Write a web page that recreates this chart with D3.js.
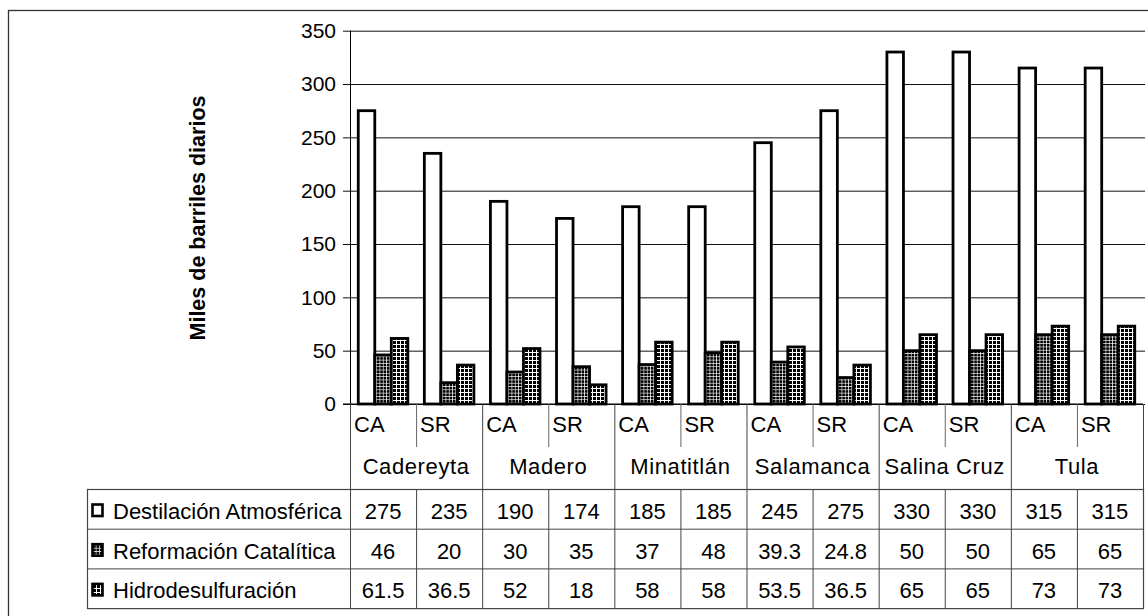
<!DOCTYPE html>
<html>
<head>
<meta charset="utf-8">
<script src="https://cdn.jsdelivr.net/npm/d3@7"></script>
<style>
  body { margin: 0; background: #fff; }
  svg { display: block; }
  text { font-family: "Liberation Sans", Arial, sans-serif; fill: #000; }
</style>
</head>
<body>
<svg id="chart" width="1148" height="616"></svg>
<script>
// Refinery capacity by plant and case (thousand barrels per day)
const plants = ["Cadereyta", "Madero", "Minatitlán", "Salamanca", "Salina Cruz", "Tula"];
const cases = ["CA", "SR"];
const seriesNames = ["Destilación Atmosférica", "Reformación Catalítica", "Hidrodesulfuración"];
const destilacion = [275, 235, 190, 174, 185, 185, 245, 275, 330, 330, 315, 315];
const reformacion = [46, 20, 30, 35, 37, 48, 39.3, 24.8, 50, 50, 65, 65];
const hidrodesulfuracion = [61.5, 36.5, 52, 18, 58, 58, 53.5, 36.5, 65, 65, 73, 73];
const valueLabels = [
  ["275", "235", "190", "174", "185", "185", "245", "275", "330", "330", "315", "315"],
  ["46", "20", "30", "35", "37", "48", "39.3", "24.8", "50", "50", "65", "65"],
  ["61.5", "36.5", "52", "18", "58", "58", "53.5", "36.5", "65", "65", "73", "73"]
];
const yTicks = [0, 50, 100, 150, 200, 250, 300, 350];
const yTitle = "Miles de barriles diarios";

const seriesValues = [destilacion, reformacion, hidrodesulfuracion];
const columns = plants.flatMap(p => cases.map(c => ({ plant: p, kase: c })));
const colKeys = columns.map((d, i) => i);

const svg = d3.select("#chart");
const defs = svg.append("defs");

// Hatch fills for the two smaller series
function gridPattern(id, size, lw) {
  const p = defs.append("pattern").attr("id", id)
    .attr("patternUnits", "userSpaceOnUse").attr("width", size).attr("height", size);
  p.append("rect").attr("width", size).attr("height", size).attr("fill", "#000");
  p.append("path").attr("d", `M0,${lw / 2}H${size}M${lw / 2},0V${size}`)
    .attr("stroke", "#fff").attr("stroke-width", lw).attr("fill", "none");
}
gridPattern("pat-ref", 3.3, 0.7);
gridPattern("pat-hdr", 4, 1.0);
const fills = ["#fff", "url(#pat-ref)", "url(#pat-hdr)"];

// Layout
const plotLeft = 350, plotRight = 1143, plotTop = 30.7, zeroY = 404;
const caseRowBottom = 447, tableTop = 489, rowH = 39.7, tableLeft = 87;
const tableBottom = tableTop + 3 * rowH;
const fs = 22;

const x = d3.scaleBand().domain(colKeys).range([plotLeft, plotRight]).padding(0);
const xs = d3.scaleBand().domain(d3.range(3)).range([0, x.bandwidth()]).paddingInner(0).paddingOuter(0.5);
const y = d3.scaleLinear().domain([0, 350]).range([zeroY, plotTop]);

// Outer chart frame
svg.append("rect").attr("x", 8.5).attr("y", 10.5).attr("width", 1160).attr("height", 620)
  .attr("fill", "none").attr("stroke", "#333").attr("stroke-width", 1.3);

// Gridlines and ticks
const yAxis = d3.axisLeft(y).tickValues(yTicks).tickSize(-(plotRight - plotLeft + 2)).tickPadding(14)
  .tickFormat(d3.format("d"));
const gy = svg.append("g").attr("transform", `translate(${plotLeft},0)`).call(yAxis);
gy.select(".domain").remove();
gy.selectAll(".tick line").attr("stroke", "#111").attr("x1", -7);
gy.selectAll(".tick text").attr("font-size", 21).attr("fill", "#000")
  .attr("font-family", "Liberation Sans, Arial, sans-serif");
svg.append("line").attr("x1", plotLeft + 0.5).attr("x2", plotLeft + 0.5).attr("y1", plotTop).attr("y2", zeroY)
  .attr("stroke", "#000");

// Bars
const barData = [];
columns.forEach((c, i) => seriesValues.forEach((vals, s) => barData.push({ i, s, v: vals[i] })));
svg.append("g").selectAll("rect").data(barData).join("rect")
  .attr("x", d => x(d.i) + xs(d.s))
  .attr("y", d => y(d.v))
  .attr("width", xs.bandwidth())
  .attr("height", d => y(0) - y(d.v))
  .attr("fill", d => fills[d.s])
  .attr("stroke", "#000").attr("stroke-width", 2.8);

// Baseline
svg.append("line").attr("x1", plotLeft - 7).attr("x2", plotRight).attr("y1", zeroY).attr("y2", zeroY)
  .attr("stroke", "#000").attr("stroke-width", 1.2);

// Category labels: case row then plant row
const cat = svg.append("g");
cat.selectAll("text.case").data(columns).join("text").attr("class", "case")
  .attr("x", (d, i) => x(i) + 4).attr("y", 432).attr("font-size", fs).text(d => d.kase);
cat.selectAll("text.plant").data(plants).join("text").attr("class", "plant")
  .attr("x", (d, i) => x(2 * i) + x.bandwidth()).attr("y", 474).attr("font-size", fs)
  .attr("letter-spacing", 0.6)
  .attr("text-anchor", "middle").text(d => d);
// separators inside each plant
cat.selectAll("line.inner").data(plants).join("line").attr("class", "inner")
  .attr("x1", (d, i) => x(2 * i + 1) + 0.5).attr("x2", (d, i) => x(2 * i + 1) + 0.5)
  .attr("y1", zeroY).attr("y2", caseRowBottom).attr("stroke", "#666");
// separators between plants (continue through the data table)
cat.selectAll("line.outer").data(d3.range(7)).join("line").attr("class", "outer")
  .attr("x1", d => (d < 6 ? x(2 * d) : plotRight) + 0.5).attr("x2", d => (d < 6 ? x(2 * d) : plotRight) + 0.5)
  .attr("y1", zeroY).attr("y2", tableTop).attr("stroke", "#444");

// Data table
const tbl = svg.append("g");
tbl.append("rect").attr("x", tableLeft + 0.5).attr("y", tableTop + 0.5)
  .attr("width", plotRight - tableLeft).attr("height", tableBottom - tableTop)
  .attr("fill", "none").attr("stroke", "#444").attr("stroke-width", 1.2);
tbl.selectAll("line.row").data([1, 2]).join("line").attr("class", "row")
  .attr("x1", tableLeft).attr("x2", plotRight)
  .attr("y1", d => tableTop + d * rowH + 0.5).attr("y2", d => tableTop + d * rowH + 0.5)
  .attr("stroke", "#444");
tbl.selectAll("line.col").data(d3.range(12)).join("line").attr("class", "col")
  .attr("x1", d => x(d) + 0.5).attr("x2", d => x(d) + 0.5)
  .attr("y1", tableTop).attr("y2", tableBottom).attr("stroke", "#444");

seriesNames.forEach((name, s) => {
  const rowY = tableTop + s * rowH;
  tbl.append("rect").attr("x", 92.5).attr("y", rowY + 15.5).attr("width", 10).attr("height", 11.5)
    .attr("fill", fills[s]).attr("stroke", "#000").attr("stroke-width", 2.6);
  tbl.append("text").attr("x", 113).attr("y", rowY + 30).attr("font-size", fs).text(name);
  tbl.selectAll(`text.v${s}`).data(seriesValues[s]).join("text").attr("class", `v${s}`)
    .attr("x", (d, i) => x(i) + x.bandwidth() / 2).attr("y", rowY + 30)
    .attr("font-size", fs).attr("text-anchor", "middle")
    .text((d, i) => valueLabels[s][i]);
});

// Y axis title
svg.append("text").attr("transform", `translate(205,218) rotate(-90)`)
  .attr("text-anchor", "middle").attr("font-size", 21.5).attr("font-weight", "bold").text(yTitle);
</script>
</body>
</html>
